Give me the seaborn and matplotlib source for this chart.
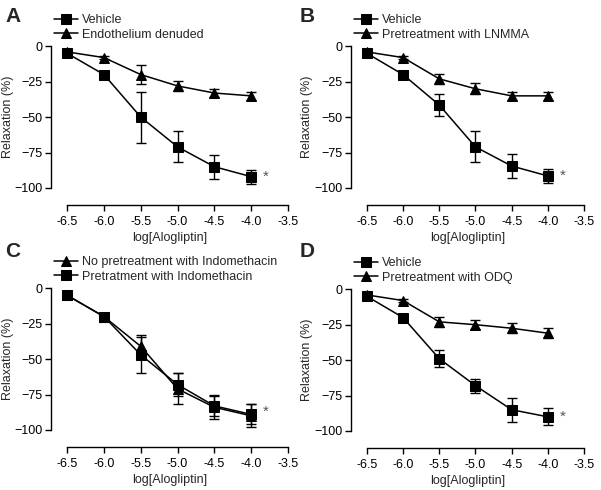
import numpy as np
import pandas as pd
import matplotlib
matplotlib.use("Agg")
import matplotlib.pyplot as plt
import seaborn as sns

# Concentrations (log M)
conc = [-6.5, -6.0, -5.5, -5.0, -4.5, -4.0]

# Panel A
a_vehicle = [-5, -20, -50, -71, -85, -92]
a_vehicle_err = [1.5, 2, 18, 11, 8.5, 5]
a_denuded = [-4, -8, -20, -28, -33, -35]
a_denuded_err = [1, 1, 6.5, 3.5, 2.5, 3]

# Panel B
b_vehicle = [-5, -20, -41.5, -71, -84.5, -91.5]
b_vehicle_err = [1.5, 2, 8, 11, 8.5, 5]
b_lnmma = [-4, -8, -23, -30, -35, -35]
b_lnmma_err = [1, 1, 3.5, 4, 3, 3]

# Panel C
c_no_indo = [-5, -20, -41, -71, -84, -90]
c_no_indo_err = [1, 1.5, 8, 11, 8.5, 8]
c_indo = [-5, -20, -47, -68, -83, -89]
c_indo_err = [1, 1.5, 12.5, 8, 7, 7]

# Panel D
d_vehicle = [-5, -20, -49, -68, -85, -90]
d_vehicle_err = [1.5, 2, 6, 5, 8.5, 6]
d_odq = [-4, -8, -23, -25, -27.5, -31]
d_odq_err = [2, 1, 3.5, 3, 3.5, 3.5]

panels = [
    ("A", [("Vehicle", "s", a_vehicle, a_vehicle_err),
           ("Endothelium denuded", "^", a_denuded, a_denuded_err)], a_vehicle[-1]),
    ("B", [("Vehicle", "s", b_vehicle, b_vehicle_err),
           ("Pretreatment with LNMMA", "^", b_lnmma, b_lnmma_err)], b_vehicle[-1]),
    ("C", [("No pretreatment with Indomethacin", "^", c_no_indo, c_no_indo_err),
           ("Pretratment with Indomethacin", "s", c_indo, c_indo_err)], c_indo[-1] + 1.5),
    ("D", [("Vehicle", "s", d_vehicle, d_vehicle_err),
           ("Pretreatment with ODQ", "^", d_odq, d_odq_err)], d_vehicle[-1]),
]

sns.set_style("ticks")
plt.rcParams["font.family"] = ["Liberation Sans", "DejaVu Sans"]
plt.rcParams["font.size"] = 9

fig = plt.figure(figsize=(6.01, 4.90), dpi=100)

# axes rectangles in pixels: left, top, right, bottom
boxes = [(51, 42, 288, 205), (351, 42, 584, 205), (51, 284, 288, 447), (351, 285, 584, 448)]
letter_pos = [(5, 16), (300, 16), (5, 251), (300, 251)]
ylabel_x = [14, 313, 14, 313]
W, H = 601, 490
ylo, yhi = -112, 3

for (letter, series, star_y), (l, t, r, b), (lx, ly), yx in zip(panels, boxes, letter_pos, ylabel_x):
    ax = fig.add_axes([l / W, 1 - b / H, (r - l) / W, (b - t) / H])
    for name, mk, vals, err in series:
        df = pd.DataFrame({"conc": conc, "val": vals})
        sns.lineplot(data=df, x="conc", y="val", ax=ax, color="black", lw=1.1,
                     marker=mk, markersize=6.5 if mk == "s" else 7,
                     markeredgecolor="black", label=name, zorder=3)
        ax.errorbar(conc, vals, yerr=err, fmt="none", ecolor="black",
                    elinewidth=1.0, capsize=3.5, capthick=1.0, zorder=2)
    ax.text(-3.8, star_y, "*", ha="center", va="center", fontsize=11, color="#555555")

    ax.set_xlim(-6.72, -3.5)
    ax.set_ylim(ylo, yhi)
    ax.set_xticks([-6.5, -6.0, -5.5, -5.0, -4.5, -4.0, -3.5])
    ax.set_xticklabels(["-6.5", "-6.0", "-5.5", "-5.0", "-4.5", "-4.0", "-3.5"])
    ax.set_yticks([0, -25, -50, -75, -100])
    ax.spines["top"].set_visible(False)
    ax.spines["right"].set_visible(False)
    ax.spines["left"].set_bounds(-100, 0)
    ax.spines["bottom"].set_bounds(-6.5, -3.5)
    for s in ("left", "bottom"):
        ax.spines[s].set_linewidth(1.0)
        ax.spines[s].set_color("black")
    ax.tick_params(length=4, width=1.0, colors="black", labelsize=9, pad=2)
    ax.tick_params(axis="x", pad=4)
    ax.set_xlabel("log[Alogliptin]", fontsize=9, labelpad=3)
    ax.set_ylabel("Relaxation (%)", fontsize=9)
    ax.yaxis.set_label_coords(-(l - yx) / (r - l), (-50 - ylo) / (yhi - ylo))

    ax.legend(loc="upper left", bbox_to_anchor=((l + 3) / W, 1 - (t - 28) / H),
              bbox_transform=fig.transFigure, frameon=False, fontsize=9,
              handlelength=1.9, handletextpad=0.3, labelspacing=0.2,
              borderpad=0, borderaxespad=0)

    fig.text(lx / W, 1 - ly / H, letter, fontsize=15, fontweight="bold",
             ha="left", va="center")

fig.savefig("out.png", dpi=100)
